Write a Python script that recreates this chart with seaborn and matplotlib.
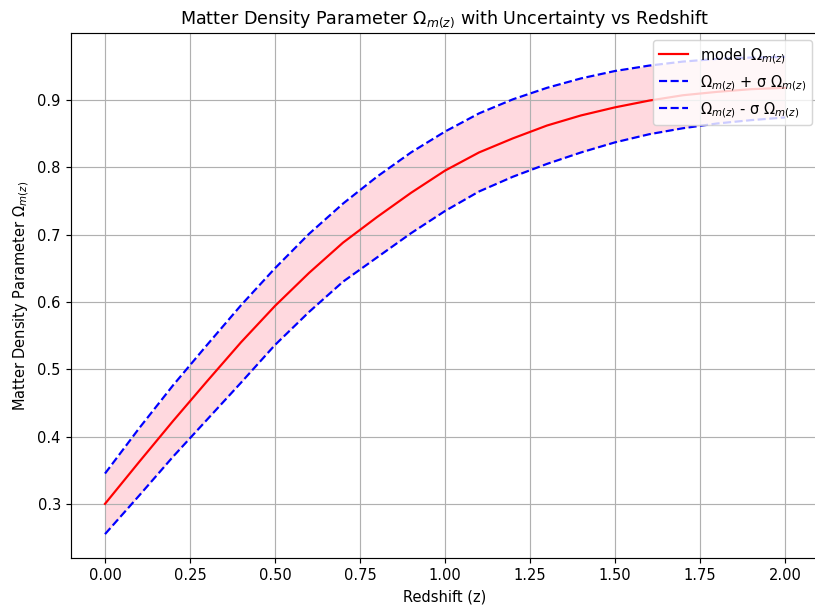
import matplotlib
matplotlib.use("Agg")
import matplotlib.pyplot as plt
import numpy as np
import pandas as pd
import seaborn as sns

# Valores (z de 0 a 2, passo 0.1)
redshift = [0.0, 0.1, 0.2, 0.3, 0.4, 0.5, 0.6, 0.7, 0.8, 0.9, 1.0,
            1.1, 1.2, 1.3, 1.4, 1.5, 1.6, 1.7, 1.8, 1.9, 2.0]
omega_model = [0.300, 0.362, 0.423, 0.482, 0.540, 0.594, 0.643, 0.688, 0.726, 0.762, 0.795,
               0.822, 0.843, 0.862, 0.877, 0.889, 0.899, 0.907, 0.912, 0.916, 0.918]
omega_upper = [0.345, 0.412, 0.476, 0.536, 0.595, 0.650, 0.701, 0.746, 0.786, 0.822, 0.853,
               0.880, 0.901, 0.918, 0.932, 0.943, 0.951, 0.957, 0.961, 0.963, 0.964]
omega_lower = [0.255, 0.312, 0.370, 0.425, 0.480, 0.536, 0.585, 0.630, 0.666, 0.702, 0.735,
               0.764, 0.786, 0.805, 0.822, 0.837, 0.849, 0.858, 0.865, 0.870, 0.874]

df = pd.DataFrame({
    "z": redshift,
    "model": omega_model,
    "upper": omega_upper,
    "lower": omega_lower,
})

# figura um pouco "ampliada" (dpi 105) para bater com o tamanho das fontes
dpi = 105
fig = plt.figure(figsize=(815 / dpi, 607 / dpi), dpi=dpi)
ax = fig.add_axes([71 / 815, 49 / 607, 748 / 815, 525 / 607])

ax.fill_between(df.z, df.lower, df.upper, color="pink", alpha=0.6, linewidth=0)
sns.lineplot(data=df, x="z", y="model", color="red", linewidth=1.5,
             label=r"model $\Omega_{m(z)}$", ax=ax)
sns.lineplot(data=df, x="z", y="upper", color="blue", linestyle="--", linewidth=1.5,
             label=r"$\Omega_{m(z)}$ + σ $\Omega_{m(z)}$", ax=ax)
sns.lineplot(data=df, x="z", y="lower", color="blue", linestyle="--", linewidth=1.5,
             label=r"$\Omega_{m(z)}$ - σ $\Omega_{m(z)}$", ax=ax)

ax.set_title(r"Matter Density Parameter $\Omega_{m(z)}$ with Uncertainty vs Redshift")
ax.set_xlabel("Redshift (z)")
ax.set_ylabel(r"Matter Density Parameter $\Omega_{m(z)}$")
ax.set_xticks(np.arange(0, 2.01, 0.25))
ax.grid(True)
ax.legend(loc="upper right")

fig.savefig("out.png", dpi=dpi)
plt.close()
